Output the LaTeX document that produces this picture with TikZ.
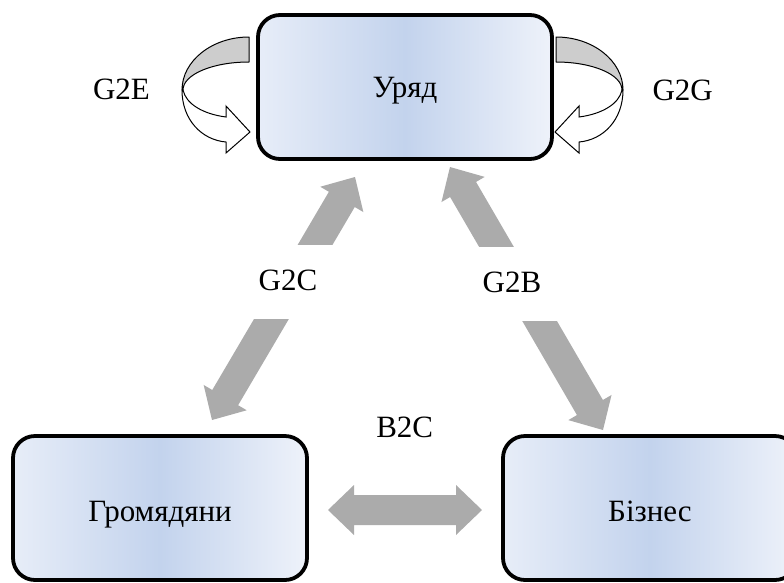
\documentclass[tikz,border=0pt]{standalone}
\usepackage{fontspec}
\setmainfont{Liberation Serif}
\usetikzlibrary{calc}
\definecolor{boxedge}{HTML}{E7EDF8}
\definecolor{boxedgeR}{HTML}{EEF2FA}
\definecolor{boxmid}{HTML}{C3D3ED}
\definecolor{arrowgray}{HTML}{ABABAB}
\definecolor{ribbongray}{HTML}{CDCDCD}
\tikzset{
  entity/.style={draw=black, line width=3.8pt, rounded corners=22pt,
    left color=boxedge, right color=boxedgeR, middle color=boxmid,
    minimum width=294pt, minimum height=144pt, inner sep=0pt,
    text height=27pt, text depth=0pt,
    font=\fontsize{31}{37}\selectfont},
  lbl/.style={font=\fontsize{31}{37}\selectfont, inner sep=0pt},
  cover/.style={lbl, fill=white, minimum width=100pt, minimum height=74pt,
    text height=16pt, text depth=0pt},
  fatgray/.style={fill=arrowgray},
  ribbonback/.style={draw=black, line width=1pt, fill=ribbongray, line join=round},
  ribbonfront/.style={draw=black, line width=1pt, fill=white, line join=miter},
}
\newcommand\fatdbl[3]{%
  \coordinate (#1ha) at ($(#2)!26pt!(#3)$);
  \coordinate (#1hb) at ($(#3)!26pt!(#2)$);
  \fill[fatgray] (#2) -- ($(#1ha)!25pt!90:(#3)$) -- ($(#1ha)!15pt!90:(#3)$)
    -- ($(#1hb)!15pt!-90:(#2)$) -- ($(#1hb)!25pt!-90:(#2)$) -- (#3)
    -- ($(#1hb)!25pt!90:(#2)$) -- ($(#1hb)!15pt!90:(#2)$)
    -- ($(#1ha)!15pt!-90:(#3)$) -- ($(#1ha)!25pt!-90:(#3)$) -- cycle;
}
\newcommand\ribbonarrow{%
  \draw[ribbonback] (249,37) .. controls (212,37) and (182,61) .. (182,90)
    -- (183,90) .. controls (183,74.5) and (212.5,62) .. (249,62) -- cycle;
  \draw[ribbonfront] (183,90) .. controls (186,104) and (203,114) .. (226,117)
    -- (226,106) -- (250,132) -- (226,153) -- (226,142)
    .. controls (202,140) and (182,120) .. (182,90) -- cycle;
}
\begin{document}
\begin{tikzpicture}[x=1pt,y=-1pt]
\useasboundingbox (0,0) rectangle (784,582);
% boxes
\node[entity, text height=20pt] (gov) at (405,87) {Уряд};
\node[entity] (cit) at (160,508) {Громядяни};
\node[entity] (bus) at (650,508) {Бізнес};
% curved self arrows
\ribbonarrow
\begin{scope}[xshift=805pt, xscale=-1]
\ribbonarrow
\end{scope}
\node[lbl, anchor=base] (g2e) at (121.5,99.5) {G2E};
\node[lbl, anchor=base] (g2g) at (682.7,100) {G2G};
% fat arrows
\coordinate (c1) at (212,420);
\coordinate (c2) at (355,177);
\coordinate (b1) at (450,167);
\coordinate (b2) at (603,430);
\coordinate (x1) at (328,510);
\coordinate (x2) at (482,510);
\fatdbl{gc}{c1}{c2}
\fatdbl{gb}{b1}{b2}
\fatdbl{bc}{x1}{x2}
% labels
\node[cover] (g2c) at (288,282) {G2C};
\node[cover] (g2b) at (512,284) {G2B};
\node[lbl, anchor=base] (b2c) at (404.7,437.3) {B2C};
\end{tikzpicture}
\end{document}
